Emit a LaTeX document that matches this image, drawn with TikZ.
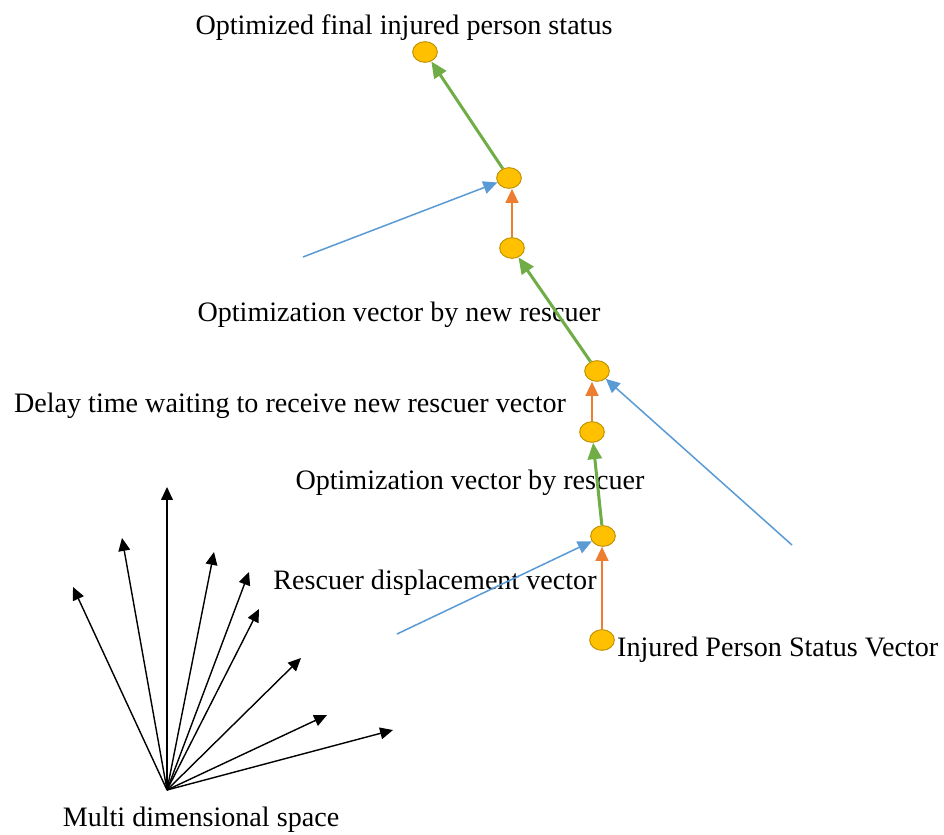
\documentclass[tikz,border=0pt]{standalone}
\usepackage{fontspec}
\setmainfont{Liberation Serif}
\usepackage{xcolor}
\usetikzlibrary{shapes.geometric, arrows.meta, positioning}

\definecolor{dotfill}{HTML}{FFC000}
\definecolor{dotline}{HTML}{BF9000}
\definecolor{vgreen}{HTML}{70AD47}
\definecolor{vorange}{HTML}{ED7D31}
\definecolor{vblue}{HTML}{5B9BD5}

\begin{document}
\begin{tikzpicture}[
    x=0.03cm, y=-0.03cm,
    dot/.style={draw=dotline, fill=dotfill, ellipse, thick, minimum width=0.74cm, minimum height=0.62cm, inner sep=0pt},
    lbl/.style={font=\fontsize{24}{28}\selectfont, inner sep=0pt},
    optarrow/.style={-{Triangle[length=14pt, width=12pt]}, vgreen, line width=2.6pt},
    delayarrow/.style={-{Triangle[length=12pt, width=11pt]}, vorange, line width=1.5pt},
    inarrow/.style={-{Triangle[length=12pt, width=11pt]}, vblue, line width=1.3pt},
    dimarrow/.style={-{Triangle[length=11pt, width=10pt]}, black, line width=1.2pt}
]
    \useasboundingbox (0,0) rectangle (944,835);

    % status chain
    \node[dot] (s1) at (602,640) {};
    \node[dot] (s2) at (603,536) {};
    \node[dot] (s3) at (592,432) {};
    \node[dot] (s4) at (597,371) {};
    \node[dot] (s5) at (512,248) {};
    \node[dot] (s6) at (509,178) {};
    \node[dot] (s7) at (425,52) {};

    % labels
    \node[lbl] (final) at (404,28) {Optimized final injured person status};
    \node[lbl] (newopt) at (399,315) {Optimization vector by new rescuer};
    \node[lbl] (delay) at (290,406) {Delay time waiting to receive new rescuer vector};
    \node[lbl] (opt) at (470,483) {Optimization vector by rescuer};
    \node[lbl] (disp) at (435,583) {Rescuer displacement vector};
    \node[lbl, anchor=west] (status) at (617,650) {Injured Person Status Vector};
    \node[lbl] (space) at (201,820) {Multi dimensional space};

    \draw[delayarrow] (s1) -- (s1 |- s2.south);
    \draw[optarrow] (s2) -- (s3);
    \draw[delayarrow] (s3) -- (s3 |- s4.south);
    \draw[optarrow] (s4) -- (s5);
    \draw[delayarrow] (s5) -- (s5 |- s6.south);
    \draw[optarrow] (s6) -- (s7);

    % rescuer inputs
    \coordinate (r1) at (397,634);
    \coordinate (r2) at (792,545);
    \coordinate (r3) at (303,257);
    \draw[inarrow] (r1) -- (s2);
    \draw[inarrow] (r2) -- (s4);
    \draw[inarrow] (r3) -- (s6);

    % multi dimensional space
    \coordinate (o) at (167,790);
    \foreach \i/\tx/\ty in {1/73/587, 2/122/538, 3/167/487, 4/214/552, 5/249/572,
                            6/259/609, 7/301/658, 8/327/715, 9/393/730} {
        \coordinate (d\i) at (\tx,\ty);
        \draw[dimarrow] (o) -- (d\i);
    }
\end{tikzpicture}
\end{document}
